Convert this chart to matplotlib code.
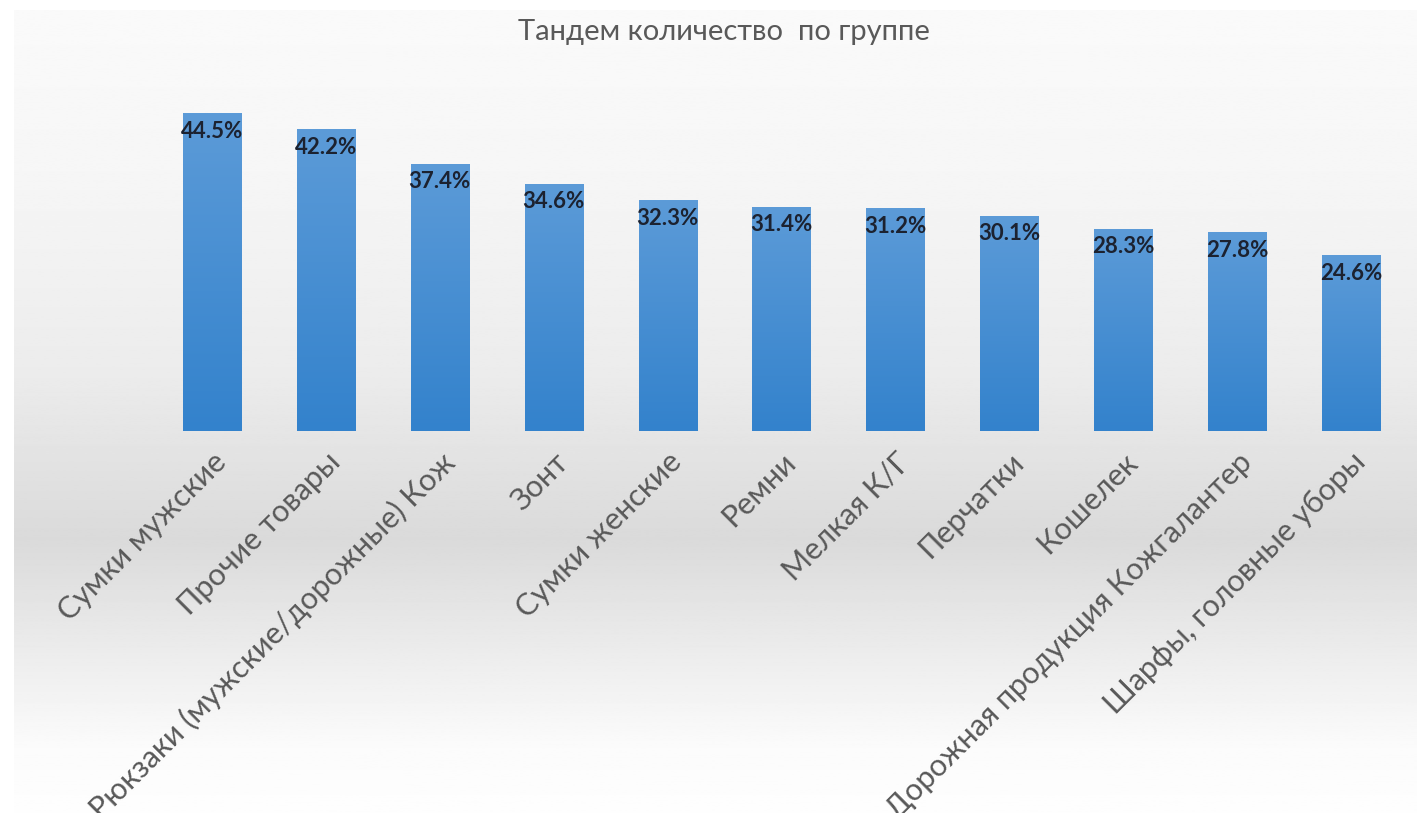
import numpy as np
import matplotlib
matplotlib.use('Agg')
import matplotlib.pyplot as plt
from matplotlib.colors import LinearSegmentedColormap

categories = ['Сумки мужские', 'Прочие товары', 'Рюкзаки (мужские/дорожные) Кож',
              'Зонт', 'Сумки женские', 'Ремни', 'Мелкая К/Г', 'Перчатки',
              'Кошелек', 'Дорожная продукция Кожгалантер', 'Шарфы, головные уборы']
values = [44.5, 42.2, 37.4, 34.6, 32.3, 31.4, 31.2, 30.1, 28.3, 27.8, 24.6]
title = 'Тандем количество  по группе'

plt.rcParams['font.family'] = ['Lato', 'DejaVu Sans']

W, H = 1417, 813
fig = plt.figure(figsize=(W / 100, H / 100), dpi=100)
fig.patch.set_facecolor('white')

# chart background: gray band behind the labels, fading to white above and below
bg = fig.add_axes([14 / W, 0, 1 - 14 / W, (H - 10) / H])
bg.set_axis_off()
yy = np.linspace(0, 1, 500)
# 0 = bottom, 1 = top
stops_y = [0.0, 0.08, 0.34, 0.55, 0.8, 1.0]
stops_v = [0.995, 0.985, 0.855, 0.925, 0.965, 0.98]
col = np.interp(yy, stops_y, stops_v)
grad = np.repeat(col[:, None], 2, axis=1)
bg.imshow(grad, origin='lower', cmap='gray', vmin=0, vmax=1,
          aspect='auto', extent=[0, 1, 0, 1])
bg.set_xlim(0, 1)
bg.set_ylim(0, 1)

# plot area
left, right = 155, 1408
base, top = 431, 60
ax = fig.add_axes([left / W, 1 - base / H, (right - left) / W, (base - top) / H])
ax.patch.set_alpha(0)
x = np.arange(len(categories))
ymax = (base - top) / ((base - 113) / values[0])

bars = ax.bar(x, values, width=0.51, color='#4a8fd3', zorder=2)
bar_cmap = LinearSegmentedColormap.from_list('barfill', ['#3382cc', '#5c9bd8'])
g = np.linspace(0, 1, 200)[:, None]
for b in bars:
    im = ax.imshow(g, origin='lower', cmap=bar_cmap, aspect='auto',
                   extent=[b.get_x(), b.get_x() + b.get_width(), 0, b.get_height()],
                   zorder=3)
    im.set_clip_path(b)
ax.set_xlim(-0.5, len(categories) - 0.5)
ax.set_ylim(0, ymax)

for xi, v in zip(x, values):
    ax.annotate(f'{v:.1f}%', (xi, v), xytext=(0, -13), textcoords='offset points',
                ha='center', va='center', fontsize=16, fontweight='bold',
                color='#1c2230', zorder=4)

ax.set_xticks(x)
ax.set_xticklabels(categories, rotation=45, ha='right', rotation_mode='anchor',
                   fontsize=22, color='#595959')
ax.tick_params(axis='x', length=0, pad=12)
ax.set_yticks([])
for s in ax.spines.values():
    s.set_visible(False)

fig.text(724 / W, 1 - 32 / H, title, ha='center', va='center',
         fontsize=21, color='#595959')

fig.savefig('out.png', dpi=100, facecolor='white')
